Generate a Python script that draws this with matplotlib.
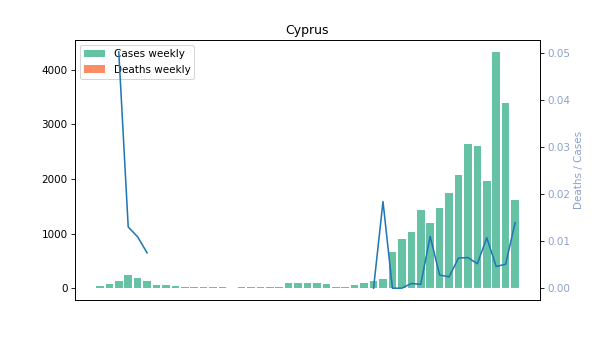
import numpy as np
from matplotlib import pyplot as plt

country = "Cyprus"

cases_weekly = [35, 75, 130, 240, 185, 130, 55, 55, 37, 18,
                18, 18, 18, 18, 0, 18, 18, 18, 18, 18,
                90, 90, 90, 90, 70, 18, 18, 60, 90, 130,
                170, 660, 900, 1030, 1440, 1200, 1475, 1750, 2080, 2650,
                2600, 1970, 4330, 3390, 1620]
deaths_weekly = [0, 0, 6, 3, 2, 1, 0, 0, 0, 0,
                 0, 0, 0, 0, 0, 0, 0, 0, 0, 0,
                 0, 0, 0, 0, 0, 0, 0, 0, 0, 0,
                 3, 0, 0, 1, 1, 13, 4, 4, 13, 17,
                 14, 21, 20, 17, 22]
nan = np.nan
death_ratio = [nan, nan, 0.0502, 0.0130, 0.0109, 0.0075, nan, nan, nan, nan,
               nan, nan, nan, nan, nan, nan, nan, nan, nan, nan,
               nan, nan, nan, nan, nan, nan, nan, nan, nan, 0.0,
               0.0184, 0.0, 0.0, 0.0010, 0.0008, 0.0110, 0.0028, 0.0024, 0.0064, 0.0065,
               0.0052, 0.0107, 0.0046, 0.0051, 0.0139]

x = np.arange(len(cases_weekly))
green, orange, blue2 = '#66c2a5', '#fc8d62', '#8da0cb'

fig = plt.figure(figsize=(8, 337/75), dpi=75)
ax = fig.add_axes([75/600, 37/337, 465/600, 260/337])
ax.use_sticky_edges = False
ax.bar(x, cases_weekly, color=green, label='Cases weekly')
ax.bar(x, deaths_weekly, color=orange, label='Deaths weekly')
ax.set_xticks([])
ax.legend(loc='upper left')
ax.set_title(country)

ax2 = ax.twinx()
ax2.plot(x, death_ratio, color='#1f77b4')
ax2.set_ylabel('Deaths / Cases', color=blue2)
ax2.tick_params(axis='y', labelcolor=blue2)

fig.savefig('out.png')
